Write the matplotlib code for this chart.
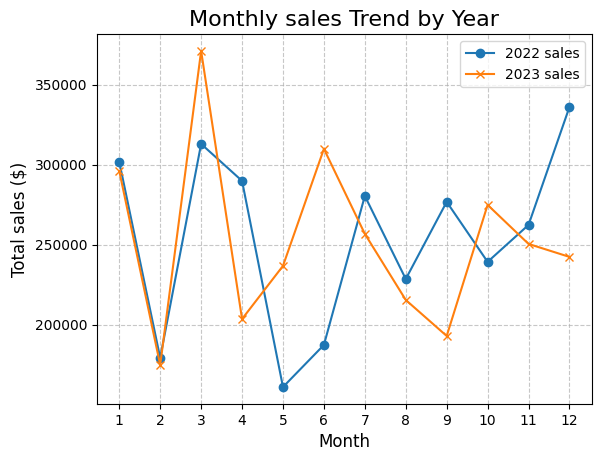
import matplotlib
matplotlib.use("Agg")
import matplotlib.pyplot as plt

months = [1, 2, 3, 4, 5, 6, 7, 8, 9, 10, 11, 12]
sales_2022 = [301900, 179400, 313100, 290000, 161200, 187500, 280600, 228700, 276900, 239400, 262500, 336200]
sales_2023 = [296200, 175000, 371200, 203700, 236900, 310000, 256900, 215600, 193100, 275000, 250600, 242500]

fig, ax = plt.subplots(figsize=(6.01, 4.61), dpi=100)
ax.plot(months, sales_2022, marker='o', label='2022 sales')
ax.plot(months, sales_2023, marker='x', label='2023 sales')
ax.set_title('Monthly sales Trend by Year', fontsize=16)
ax.set_xlabel('Month', fontsize=12)
ax.set_ylabel('Total sales ($)', fontsize=12)
ax.set_xticks(months)
ax.grid(True, linestyle='--', alpha=0.7)
ax.legend()
fig.subplots_adjust(left=0.161, right=0.985, top=0.926, bottom=0.124)
fig.savefig('out.png', dpi=100)
